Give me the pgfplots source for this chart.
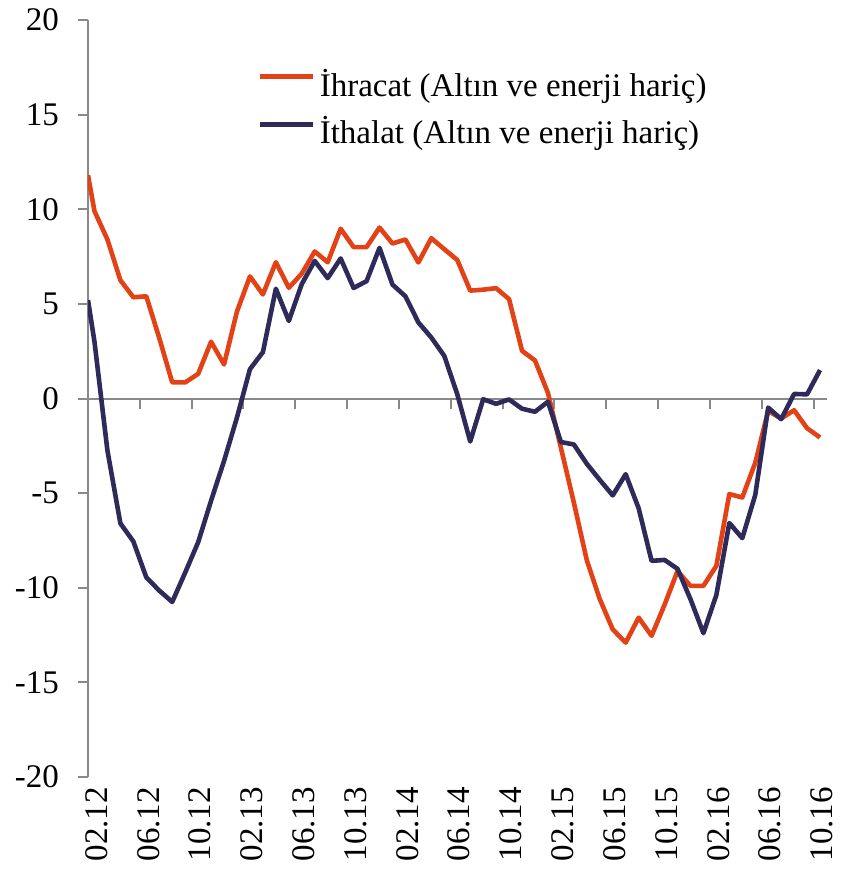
\documentclass[border=0pt]{standalone}
\usepackage{fontspec}
\setmainfont{Liberation Serif}
\usepackage{pgfplots}
\pgfplotsset{compat=1.18}
\definecolor{ihr}{RGB}{226,66,22}
\definecolor{ith}{RGB}{46,42,90}
\definecolor{axgray}{RGB}{137,137,137}
\begin{document}
\begin{tikzpicture}
\begin{axis}[
  at={(0pt,0pt)}, anchor=south west,
  scale only axis, width=738.5pt, height=757pt,
  xmin=0, xmax=57, ymin=-20, ymax=20,
  axis x line*=bottom, axis y line*=left,
  x axis line style={draw=none},
  y axis line style={axgray, line width=2pt, -},
  ytick={-20,-15,-10,-5,0,5,10,15,20},
  yticklabels={-20,-15,-10,-5,0,5,10,15,20},
  ytick style={axgray, line width=2pt},
  tick align=outside, major tick length=10pt,
  xtick={0.5,4.5,8.5,12.5,16.5,20.5,24.5,28.5,32.5,36.5,40.5,44.5,48.5,52.5,56.5},
  xticklabels={02.12,06.12,10.12,02.13,06.13,10.13,02.14,06.14,10.14,02.15,06.15,10.15,02.16,06.16,10.16},
  xtick style={draw=none},
  tick label style={font=\fontsize{33}{40}\selectfont},
  xticklabel style={rotate=90, anchor=east, inner sep=0pt, yshift=-2pt},
  yticklabel style={anchor=east, inner sep=0pt, xshift=-19pt},
  extra y ticks={0}, extra y tick labels={},
  extra y tick style={grid=major, major grid style={axgray, line width=2pt}},
  legend style={at={(rel axis cs:0.2302,0.934)}, anchor=north west, draw=none, fill=none,
    font=\fontsize{33}{40}\selectfont, row sep=13.6pt, inner sep=0pt,
    nodes={inner sep=0pt, text height=26pt, text depth=8pt},
    /tikz/every odd column/.append style={column sep=4pt}},
  legend cell align=left,
  legend image code/.code={\draw[#1] (0pt,10.5pt) -- (53pt,10.5pt);},
]
\pgfplotsinvokeforeach{4,8,12,16,20,24,28,32,36,40,44,48,52,56}{
  \draw[axgray, line width=2pt] (axis cs:#1,0) -- ++(0pt,-10pt);
}
\addplot[ihr, line width=4.6pt, line join=round, no markers] coordinates {
(0,11.8) (0.5,9.9) (1.5,8.4) (2.5,6.25) (3.5,5.35) (4.5,5.4) (5.5,3.2) (6.5,0.85) (7.5,0.85) (8.5,1.3) (9.5,3.0) (10.5,1.8) (11.5,4.6) (12.5,6.45) (13.5,5.5) (14.5,7.2) (15.5,5.85) (16.5,6.6) (17.5,7.77) (18.5,7.2) (19.5,8.97) (20.5,8.0) (21.5,8.0) (22.5,9.03) (23.5,8.19) (24.5,8.4) (25.5,7.19) (26.5,8.47) (27.5,7.89) (28.5,7.32) (29.5,5.7) (30.5,5.75) (31.5,5.83) (32.5,5.25) (33.5,2.52) (34.5,2.01) (35.5,0.3) (36.5,-2.6) (37.5,-5.5) (38.5,-8.55) (39.5,-10.6) (40.5,-12.2) (41.5,-12.9) (42.5,-11.58) (43.5,-12.54) (44.5,-10.9) (45.5,-9.12) (46.5,-9.9) (47.5,-9.9) (48.5,-8.84) (49.5,-5.05) (50.5,-5.23) (51.5,-3.4) (52.5,-0.65) (53.5,-1.06) (54.5,-0.62) (55.5,-1.57) (56.5,-2.06)
};
\addlegendentry{İhracat (Altın ve enerji hariç)}
\addplot[ith, line width=4.6pt, line join=round, no markers] coordinates {
(0,5.2) (0.5,3.0) (1.5,-2.75) (2.5,-6.6) (3.5,-7.55) (4.5,-9.45) (5.5,-10.15) (6.5,-10.75) (7.5,-9.2) (8.5,-7.6) (9.5,-5.4) (10.5,-3.3) (11.5,-1.0) (12.5,1.55) (13.5,2.45) (14.5,5.8) (15.5,4.1) (16.5,6.05) (17.5,7.27) (18.5,6.36) (19.5,7.4) (20.5,5.84) (21.5,6.2) (22.5,7.96) (23.5,6.02) (24.5,5.4) (25.5,4.02) (26.5,3.22) (27.5,2.25) (28.5,0.23) (29.5,-2.27) (30.5,-0.04) (31.5,-0.28) (32.5,-0.05) (33.5,-0.54) (34.5,-0.7) (35.5,-0.17) (36.5,-2.3) (37.5,-2.43) (38.5,-3.45) (39.5,-4.3) (40.5,-5.12) (41.5,-4.0) (42.5,-5.8) (43.5,-8.58) (44.5,-8.53) (45.5,-9.0) (46.5,-10.6) (47.5,-12.4) (48.5,-10.38) (49.5,-6.58) (50.5,-7.38) (51.5,-5.1) (52.5,-0.48) (53.5,-1.09) (54.5,0.24) (55.5,0.22) (56.5,1.5)
};
\addlegendentry{İthalat (Altın ve enerji hariç)}
\end{axis}
\path (-88pt,-104pt) (762pt,777pt);
\end{tikzpicture}
\end{document}
